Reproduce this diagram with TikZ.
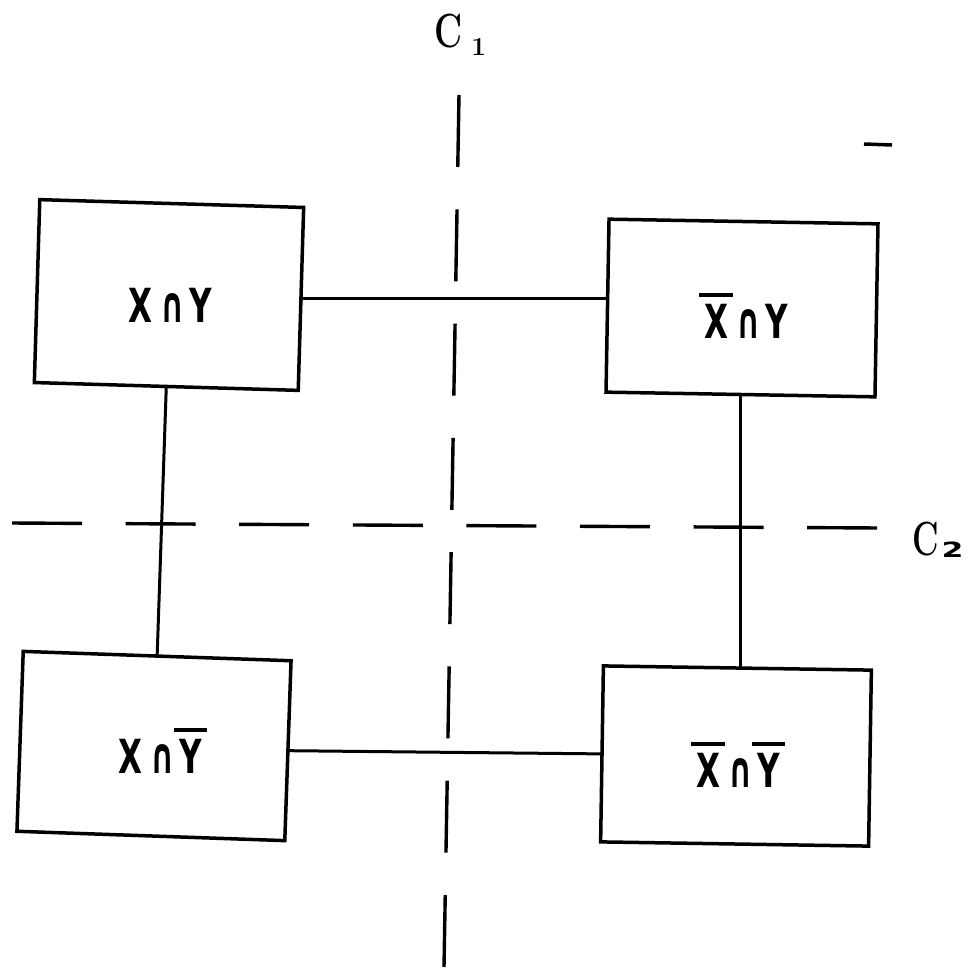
\documentclass[tikz,border=0pt]{standalone}
\usepackage{graphicx}
\usepackage{fontspec}
\newfontfamily\lblfont[FakeStretch=0.66]{DejaVu Sans Bold}
\newfontfamily\capfont[FakeStretch=0.6]{DejaVu Sans Bold}
\newfontfamily\subfont{DejaVu Sans Bold}
\newcommand\ob[1]{\setbox0\hbox{#1}\rlap{\kern-5pt\rule[\dimexpr\ht0+7pt\relax]{\dimexpr\wd0+10pt\relax}{4pt}}\box0}
\newcommand\isect{\kern8pt{\capfont\fontsize{50}{50}\selectfont ∩}\kern5pt}
\newcommand\lblsize{\lblfont\fontsize{47}{50}\selectfont}
\begin{document}
\begin{tikzpicture}[x=1pt,y=-1pt,
  box/.style={draw, line width=3.5pt, inner sep=0pt, outer sep=0pt},
  lbl/.style={anchor=base, inner sep=0pt, font=\lblsize},
  link/.style={line width=3pt},
  cut/.style={line width=3.4pt, dash pattern=on 72pt off 42.3pt}]
\useasboundingbox (0,0) rectangle (977,967);
% boxes
\node[box, rotate=-1.7, minimum width=264pt, minimum height=183pt] (tl) at (169,295) {};
\node[box, rotate=-1.0, minimum width=269pt, minimum height=173pt] (tr) at (742,308) {};
\node[box, rotate=-2.0, minimum width=268pt, minimum height=180pt] (bl) at (154,746) {};
\node[box, rotate=-0.9, minimum width=268pt, minimum height=176pt] (br) at (736,756) {};
% labels
\node[lbl] (tlt) at (170,322) {X\isect Y};
\node[lbl] (trt) at (746,338) {\ob{X}\isect Y};
\node[lbl] (blt) at (160,773) {X\isect\ob{Y}};
\node[lbl] (brt) at (738,787) {\ob{X}\isect\ob{Y}};
% connectors
\draw[link] (tl.east) -- (tl.east -| tr.west);
\draw[link] (bl.east) -- (br.west);
\draw[link] (tl.south) -- (bl.north);
\draw[link] (tr.south) -- (tr.south |- br.north);
% cut lines
\coordinate (v1) at (459,95);
\coordinate (v2) at (444,967);
\coordinate (h1) at (12,523);
\coordinate (h2) at (880,528);
\draw[cut] (v1) -- (v2);
\draw[cut, dash pattern=on 70pt off 43.6pt] (h1) -- (h2);
\node[anchor=base west, inner sep=0pt] (c1) at (434,47) {\bfseries\fontsize{48}{50}\selectfont\scalebox{0.72}[1]{C}\kern9pt\raisebox{-8pt}{\fontsize{26}{27}\selectfont 1}};
\node[anchor=base west, inner sep=0pt] (c2) at (912,555) {\bfseries\fontsize{48}{50}\selectfont\scalebox{0.68}[1]{C}\kern3pt\raisebox{-2pt}{\subfont\fontsize{21}{21}\selectfont\scalebox{1.5}[1]{2}}};
% stray mark
\coordinate (m1) at (864,144);
\coordinate (m2) at (892,145);
\draw[line width=3.5pt] (m1) -- (m2);
\end{tikzpicture}
\end{document}
